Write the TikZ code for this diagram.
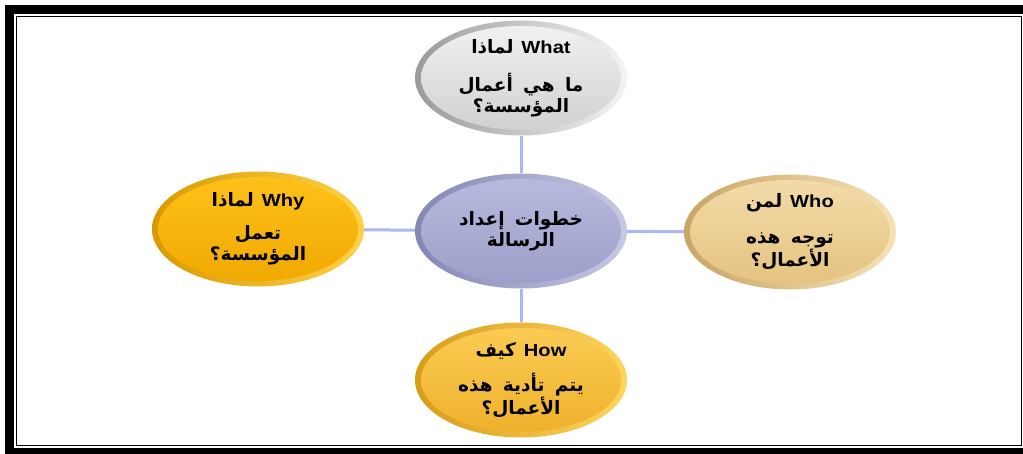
\documentclass[tikz,border=0pt]{standalone}
\usepackage{fontspec}
\usepackage{graphicx}
\setmainfont{Liberation Sans}
\newfontfamily\arfont[Script=Arabic,WordSpace={1.6}]{DejaVu Sans}
\TeXXeTstate=1
\usetikzlibrary{shapes.geometric}
\definecolor{connblue}{HTML}{AAB8F4}
\definecolor{gA}{HTML}{9A9A9A}\definecolor{gB}{HTML}{F4F4F4}\definecolor{gC}{HTML}{F2F2F2}\definecolor{gD}{HTML}{CFCFCF}
\definecolor{pA}{HTML}{8486B4}\definecolor{pB}{HTML}{C8C9E4}\definecolor{pC}{HTML}{B9BADE}\definecolor{pD}{HTML}{9C9EC8}
\definecolor{oA}{HTML}{D99A00}\definecolor{oB}{HTML}{FFD24A}\definecolor{oC}{HTML}{FFC21A}\definecolor{oD}{HTML}{F0A800}
\definecolor{tA}{HTML}{C9A566}\definecolor{tB}{HTML}{F6E2B6}\definecolor{tC}{HTML}{F3DCAA}\definecolor{tD}{HTML}{E4C27E}
\definecolor{yA}{HTML}{D89C18}\definecolor{yB}{HTML}{FFD45E}\definecolor{yC}{HTML}{FBCC55}\definecolor{yD}{HTML}{EEB02A}
\newcommand{\ar}[1]{\beginR{\arfont\bfseries\fontsize{18.5}{21}\selectfont #1}\endR}
\newcommand{\hd}[2]{\beginR\beginL\scalebox{1.15}[1]{\fontsize{17.5}{21}\selectfont\bfseries #2}\endL\hspace{8pt}{\arfont\bfseries\fontsize{18.5}{21}\selectfont #1}\endR}
\tikzset{
  bubble/.style n args={4}{ellipse, minimum width=212pt, minimum height=115pt, inner sep=0pt,
    align=center, text=black, font=\fontsize{14}{21}\selectfont,
    left color=#1, right color=#2,
    path picture={\shade[top color=#3, bottom color=#4]
      (path picture bounding box.center) ellipse [x radius=100pt, y radius=52pt];}},
  conn/.style={draw=connblue, line width=3pt}
}
\begin{document}
\begin{tikzpicture}[x=1pt,y=-1pt]
\useasboundingbox (0,0) rectangle (1023,454);
\fill[white] (0,0) rectangle (1023,454);
\fill[black] (5,5) rectangle (1023,454);
\fill[white] (14,14) rectangle (1023,448);
\draw[black, line width=1.3pt] (16.5,16.5) rectangle (1021.5,445.5);

\node[bubble={gA}{gB}{gC}{gD}] (what) at (521,78)
  {\hd{لماذا}{What}\\[17pt]\ar{ما هي أعمال}\\\ar{المؤسسة؟}};
\node[bubble={pA}{pB}{pC}{pD}] (c) at (521,231)
  {\ar{خطوات إعداد}\\\ar{الرسالة}};
\node[bubble={oA}{oB}{oC}{oD}] (why) at (258,229)
  {\hd{لماذا}{Why}\\[12pt]\ar{تعمل}\\\ar{المؤسسة؟}};
\node[bubble={tA}{tB}{tC}{tD}] (who) at (790,232)
  {\hd{لمن}{Who}\\[15pt]\ar{توجه هذه}\\\ar{الأعمال؟}};
\node[bubble={yA}{yB}{yC}{yD}] (how) at (521,380)
  {\hd{كيف}{How}\\[12pt]\ar{يتم تأدية هذه}\\\ar{الأعمال؟}};

\draw[conn] (c) -- (what);
\draw[conn] (c) -- (how);
\draw[conn] (c) -- (why);
\draw[conn] (c) -- (who);
\end{tikzpicture}
\end{document}
